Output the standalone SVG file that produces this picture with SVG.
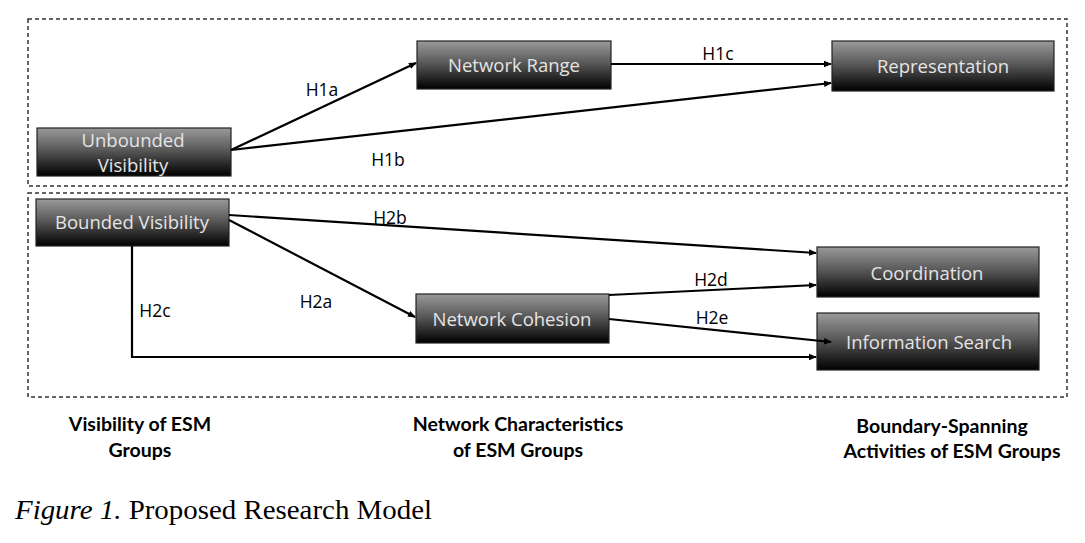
<svg xmlns="http://www.w3.org/2000/svg" width="1085" height="543" viewBox="0 0 1085 543">
<style>
.frame{fill:none;stroke:#333;stroke-width:1.5;stroke-dasharray:4 3}
.node rect{fill:url(#g);stroke:#222;stroke-width:1.2}
.node text{font-family:"Open Sans","Liberation Sans",sans-serif;font-size:18.5px;fill:#e4e4e4;text-anchor:middle}
.edge{fill:none;stroke:#000;stroke-width:2.2;marker-end:url(#a)}
.lbl{font-family:"Open Sans","Liberation Sans",sans-serif;font-size:17.5px;fill:#000;text-anchor:middle}
.cat{font-family:"Lato","Liberation Sans",sans-serif;font-weight:bold;font-size:19.5px;fill:#000;text-anchor:middle}
.cap{font-family:"Liberation Serif",serif;font-size:28px;fill:#000}
</style>
<defs>
<linearGradient id="g" x1="0" y1="0" x2="0" y2="1">
<stop offset="0" stop-color="#9a9a9a"/>
<stop offset="0.45" stop-color="#5a5a5a"/>
<stop offset="1" stop-color="#000"/>
</linearGradient>
<marker id="a" markerWidth="8" markerHeight="8" refX="7" refY="4" orient="auto" markerUnits="userSpaceOnUse">
<path d="M0,0.8 L8,4 L0,7.2 z" fill="#000"/>
</marker>
</defs>
<rect width="1085" height="543" fill="#fff"/>
<rect class="frame" x="28" y="19" width="1039" height="167"/>
<rect class="frame" x="28" y="193" width="1039" height="204"/>
<g id="unbounded" class="node"><rect x="37" y="128" width="194" height="48"/><text x="133" y="147">Unbounded</text><text x="133" y="172">Visibility</text></g>
<g id="network-range" class="node"><rect x="417" y="41" width="194" height="48"/><text x="514" y="72">Network Range</text></g>
<g id="representation" class="node"><rect x="832" y="41" width="222" height="50"/><text x="943" y="73">Representation</text></g>
<g id="bounded" class="node"><rect x="36" y="199" width="193" height="47"/><text x="132" y="229">Bounded Visibility</text></g>
<g id="network-cohesion" class="node"><rect x="416" y="294" width="193" height="49"/><text x="512" y="326">Network Cohesion</text></g>
<g id="coordination" class="node"><rect x="817" y="247" width="222" height="50"/><text x="927" y="280">Coordination</text></g>
<g id="information-search" class="node"><rect x="817" y="313" width="222" height="57"/><text x="929" y="349">Information Search</text></g>
<g id="connectors">
<path class="edge" d="M231,150 L416,63"/>
<path class="edge" d="M231,150 L831,83"/>
<path class="edge" d="M611,64 L831,64"/>
<path class="edge" d="M229,215 L816,253"/>
<path class="edge" d="M229,220 L415,317"/>
<path class="edge" d="M132,246 L132,357 L816,357"/>
<path class="edge" d="M609,295 L816,285"/>
<path class="edge" d="M609,319 L831,342"/>
<text class="lbl" x="322" y="96">H1a</text>
<text class="lbl" x="388" y="166">H1b</text>
<text class="lbl" x="718" y="60">H1c</text>
<text class="lbl" x="390" y="224">H2b</text>
<text class="lbl" x="316" y="308">H2a</text>
<text class="lbl" x="155" y="317">H2c</text>
<text class="lbl" x="711" y="286">H2d</text>
<text class="lbl" x="712" y="324">H2e</text>
</g>
<text class="cat" x="140" y="431">Visibility of ESM</text>
<text class="cat" x="140" y="457">Groups</text>
<text class="cat" x="518" y="431">Network Characteristics</text>
<text class="cat" x="518" y="457">of ESM Groups</text>
<text class="cat" x="942" y="433">Boundary-Spanning</text>
<text class="cat" x="952" y="458">Activities of ESM Groups</text>
<text class="cap" x="15" y="519" textLength="417" lengthAdjust="spacingAndGlyphs"><tspan font-style="italic">Figure 1.</tspan> Proposed Research Model</text>
</svg>
